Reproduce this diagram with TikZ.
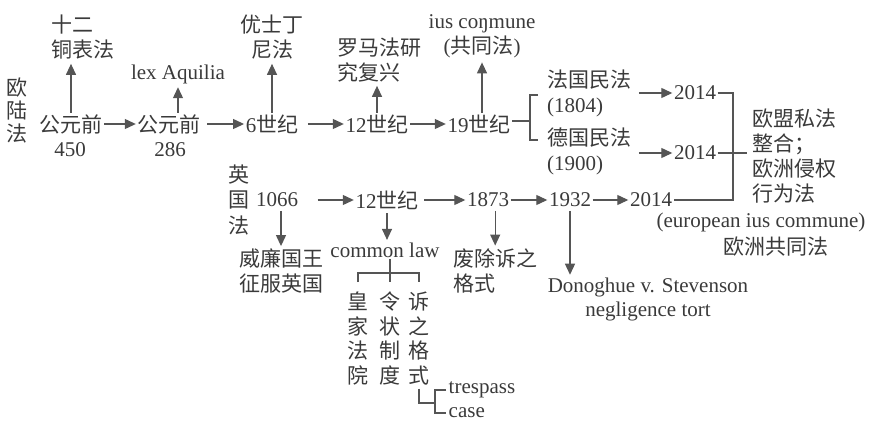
\documentclass[tikz,border=0pt]{standalone}
\usepackage{fontspec}
\setmainfont{Liberation Serif}
\newfontfamily\cjk{Noto Sans CJK SC}
\usetikzlibrary{arrows.meta}
\definecolor{ink}{RGB}{58,58,58}
\definecolor{lin}{RGB}{85,85,85}
\newcommand\zh[1]{{\cjk #1}}
\begin{document}
\begin{tikzpicture}[x=1pt,y=-1pt,
  every node/.style={text=ink, inner sep=1.5pt, font=\fontsize{21}{25}\selectfont},
  cn/.style={font=\cjk\fontsize{21}{25}\selectfont},
  cnv/.style={font=\cjk\fontsize{21}{23}\selectfont, align=center},
  cnc/.style={font=\cjk\fontsize{21}{24.5}\selectfont, align=center},
  arr/.style={draw=lin, line width=1.2pt, -{Triangle[length=11pt,width=10pt]}},
  ln/.style={draw=lin, line width=1.1pt},
]
\useasboundingbox (0,0) rectangle (869,422);

% ---- continental row
\node[cnv] (ol) at (17,110) {欧\\陆\\法};
\node[cn] (n1a) at (71,124) {公元前};
\node (n1a2) at (70,150) {450};
\node[cn] (n1b) at (169,124) {公元前};
\node (n1b2) at (170,150) {286};
\node (n1c) at (272,124) {6\zh{世纪}};
\node (n1d) at (377,124) {12\zh{世纪}};
\node (n1e) at (479,124) {19\zh{世纪}};

\node[cn, align=left, anchor=west] (t1) at (49.5,37) {十二\\铜表法};
\node (t2) at (178,74) {lex Aquilia};
\node[cn, align=center] (t3) at (272,37) {优士丁\\尼法};
\node[cn, align=left, anchor=west] (t4) at (335.5,60) {罗马法研\\究复兴};
\node[align=center] (t5) at (482,36) {ius coŋmune\\(\zh{共同法})};

\node[align=left, anchor=west] (fr) at (545.5,93) {\zh{法国民法}\\(1804)};
\node[align=left, anchor=west] (de) at (545.5,151.5) {\zh{德国民法}\\(1900)};
\node (y14a) at (695,93) {2014};
\node (y14b) at (695,153) {2014};
\node[cn, align=left, anchor=west] (eu) at (750.5,156) {欧盟私法\\整合；\\欧洲侵权\\行为法};
\node (euc) at (761,222) {(european ius commune)};
\node[cn] (euz) at (776,247) {欧洲共同法};

% ---- english row
\node[cnv, font=\cjk\fontsize{21}{25.5}\selectfont] (yg) at (239,200) {英\\国\\法};
\node (r2a) at (277,200) {1066};
\node (r2b) at (387,200) {12\zh{世纪}};
\node (r2c) at (488,200) {1873};
\node (r2d) at (570,200) {1932};
\node (r2e) at (651,200) {2014};

\node[cn, align=center] (wl) at (281,271) {威廉国王\\征服英国};
\node (cl) at (385,250) {common law};
\node[cn, align=left, anchor=west] (fc) at (451.5,270.5) {废除诉之\\格式};
\node[cnc] (c1) at (358,338.5) {皇\\家\\法\\院};
\node[cnc] (c2) at (390,338.5) {令\\状\\制\\度};
\node[cnc] (c3) at (419,338.5) {诉\\之\\格\\式};
\node[anchor=west] (tr) at (447,390) {trespass};
\node[anchor=west] (cs) at (447,413) {case};
\node[align=center, font=\fontsize{21}{24}\selectfont] (dv) at (648,299) {Donoghue v. Stevenson\\negligence tort};

% ---- coordinates
\coordinate (bk) at (530,121);
\coordinate (rb) at (733,150);
\coordinate (cj) at (390,273);
\coordinate (lc) at (435,403);

% ---- continental connectors
\draw[arr] (n1a.east) -- (n1b.west);
\draw[arr, shorten <=5pt] (n1b.east) -- (n1c.west);
\draw[arr, shorten <=8pt] (n1c.east) -- (n1d.west);
\draw[arr] (n1d.east) -- (n1e.west);
\draw[arr, shorten >=3pt] (n1a.north) -- (n1a.north |- t1.south);
\draw[arr, shorten >=2pt] (n1b.north -| t2.south) -- (t2.south);
\draw[arr, shorten >=3pt] (n1c.north) -- (n1c.north |- t3.south);
\draw[arr, shorten >=2pt] (n1d.north) -- (n1d.north |- t4.south);
\draw[arr, shorten >=3pt] (n1e.north -| t5.south) -- (t5.south);

\draw[ln] (n1e.east |- bk) -- (bk);
\draw[ln] ([xshift=8pt]bk |- 0,95) -- (bk |- 0,95) -- (bk |- 0,140) -- ([xshift=8pt]bk |- 0,140);
\draw[arr, shorten <=6pt] (fr.east |- y14a) -- (y14a.west);
\draw[arr, shorten <=6pt] (de.east |- y14b) -- (y14b.west);
\draw[ln] (y14a.east) -- (y14a.east -| rb) -- (rb |- r2e.east) -- (r2e.east);
\draw[ln, shorten >=4pt] (y14b.east) -- (y14b.east -| eu.west);

% ---- english connectors
\draw[arr, shorten <=18pt] (r2a.east) -- (r2b.west);
\draw[arr, shorten <=4pt] (r2b.east) -- (r2c.west);
\draw[arr] (r2c.east) -- (r2d.west);
\draw[arr] (r2d.east) -- (r2e.west);
\draw[arr, shorten <=2pt, shorten >=1pt] (r2a.south -| wl.north) -- (wl.north);
\draw[arr, shorten <=2pt, shorten >=1pt] (r2b.south) -- (r2b.south |- cl.north);
\draw[arr, shorten <=2pt, shorten >=1pt] (r2c.south -| fc.north) -- (fc.north);
\draw[arr, shorten <=2pt, shorten >=1pt] (r2d.south) -- (r2d.south |- dv.north);

\draw[ln] (cl.south -| cj) -- ([yshift=-9pt]cj);
\draw[ln] ([yshift=-9pt]c1.north |- cj) -- (c1.north |- cj) -- (c3.north |- cj) -- ([yshift=-9pt]c3.north |- cj);
\draw[ln, shorten <=2pt] (c3.south) -- (c3.south |- lc) -- (lc);
\draw[ln] ([xshift=-1pt]tr.west) -- (lc |- tr.west) -- (lc |- cs.west) -- ([xshift=-1pt]cs.west);
\end{tikzpicture}
\end{document}
